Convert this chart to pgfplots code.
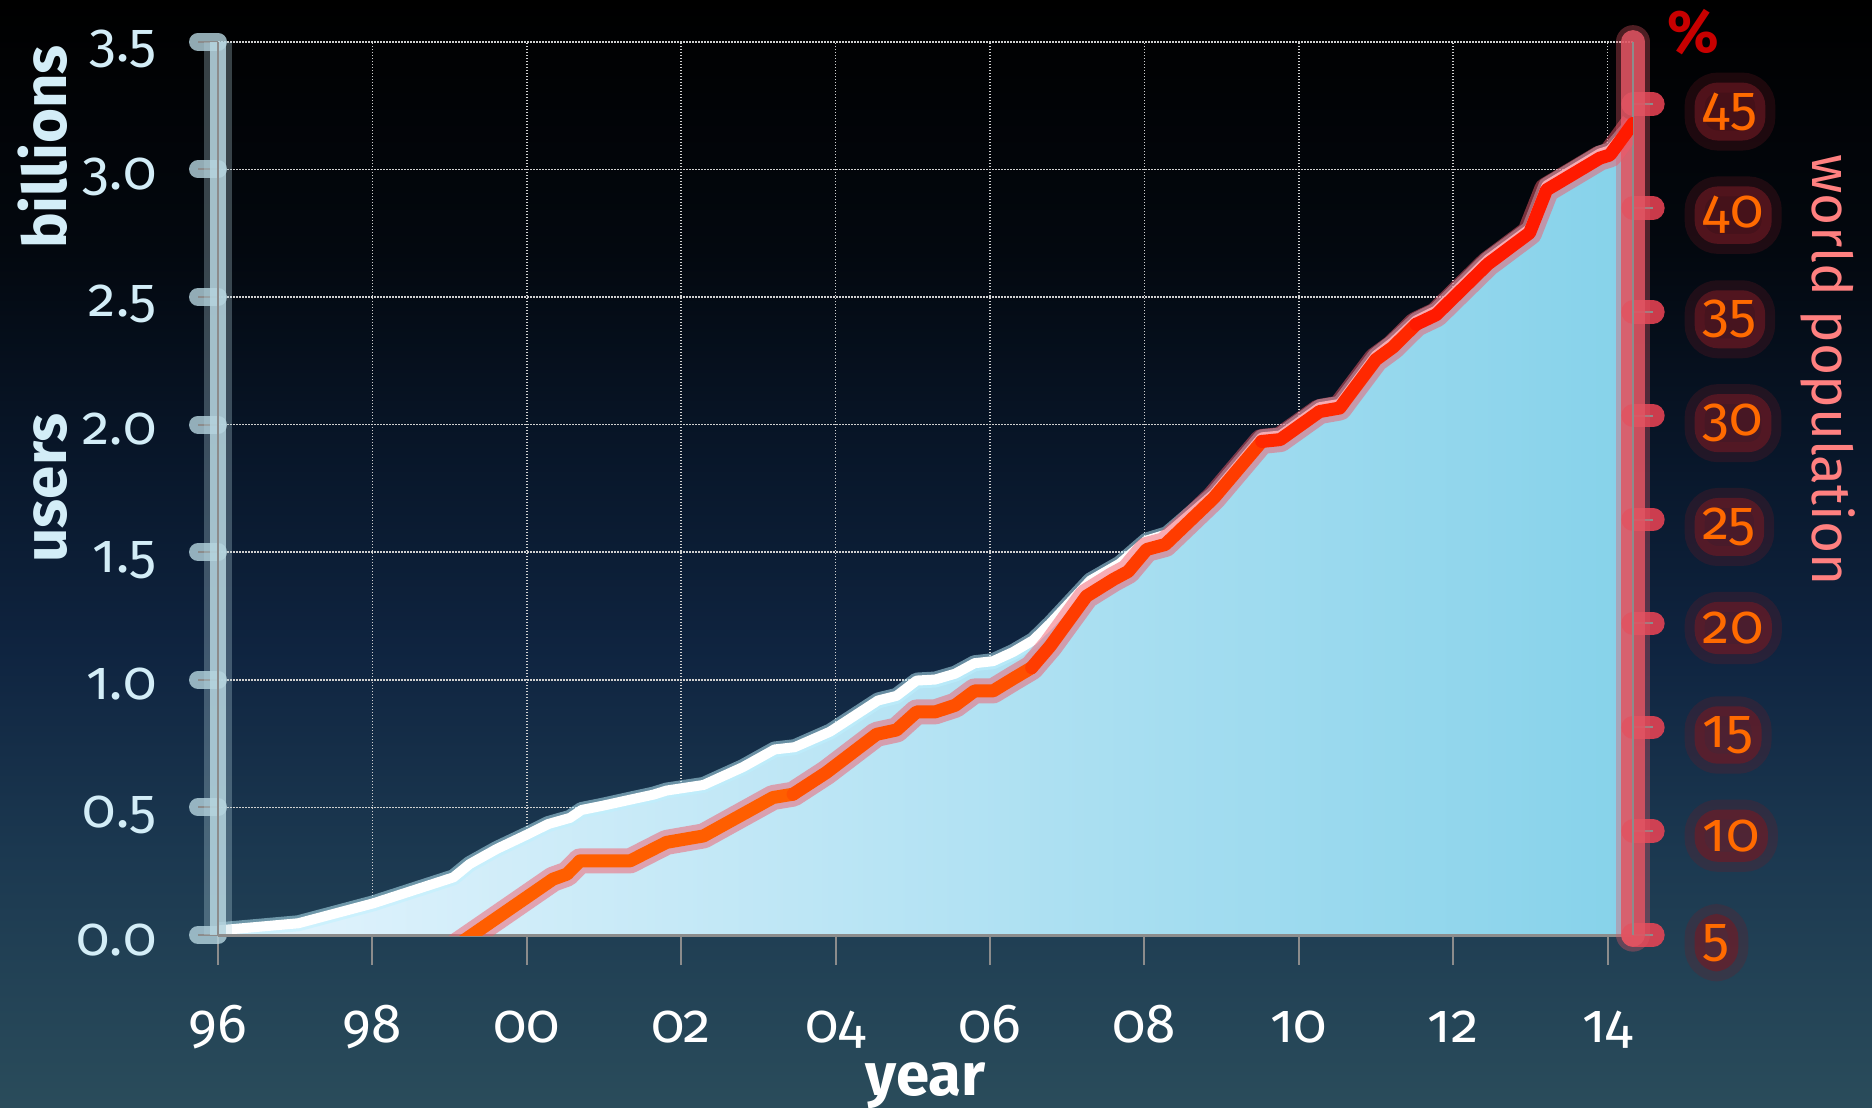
\documentclass[border=0pt]{standalone}
\usepackage{fontspec}
\setmainfont{Fira Sans}[Numbers=OldStyle]
\usepackage{pgfplots}
\usepackage{pgfplotstable}
\pgfplotsset{compat=1.18}

\definecolor{bg0}{HTML}{000000}
\definecolor{bg1}{HTML}{03080F}
\definecolor{bg2}{HTML}{081629}
\definecolor{bg3}{HTML}{0F2440}
\definecolor{bg4}{HTML}{1B3850}
\definecolor{bg5}{HTML}{2A4C5B}
\definecolor{lbl}{HTML}{D3EDF7}
\definecolor{lband}{HTML}{B6D5DF}
\definecolor{tickgray}{HTML}{8C8C8C}
\definecolor{gridc}{HTML}{D0D0D0}
\definecolor{fillL}{HTML}{E4F4FD}
\definecolor{fillR}{HTML}{86D2EA}
\definecolor{wglow}{HTML}{BDF1FF}
\definecolor{rband}{HTML}{E05563}
\definecolor{rblob}{HTML}{EE4455}
\definecolor{rlbl}{HTML}{FF6A00}
\definecolor{rglow}{HTML}{731A24}
\definecolor{rlineglow}{HTML}{F25A6A}
\definecolor{pctred}{HTML}{C80000}
\definecolor{wpop}{HTML}{FF8080}
\definecolor{rA}{HTML}{FF5E00}
\definecolor{rB}{HTML}{FF5000}
\definecolor{rC}{HTML}{FF3C00}
\definecolor{rD}{HTML}{FF2800}
\definecolor{rE}{HTML}{FF1A00}

% internet users, billions
\pgfplotstableread{
x y
1996.00 0.018
1997.04 0.046
1998.01 0.124
1999.05 0.226
1999.26 0.278
1999.61 0.337
2000.00 0.393
2000.28 0.435
2000.56 0.459
2000.71 0.490
2000.99 0.507
2001.38 0.533
2001.64 0.550
2001.81 0.566
2002.29 0.588
2002.80 0.658
2003.21 0.727
2003.47 0.736
2003.93 0.797
2004.55 0.919
2004.79 0.937
2005.05 0.997
2005.29 1.001
2005.55 1.024
2005.80 1.065
2006.04 1.073
2006.30 1.109
2006.56 1.155
2006.78 1.220
2007.30 1.389
2007.68 1.455
2008.03 1.546
2008.29 1.570
2008.90 1.728
2009.52 1.950
2009.76 1.957
2010.27 2.068
2010.53 2.081
2011.00 2.271
2011.22 2.323
2011.52 2.408
2011.78 2.447
2012.45 2.647
2012.99 2.767
2013.21 2.937
2013.90 3.062
2014.03 3.075
2014.33 3.180
}\users

% share of world population, percent
\pgfplotstableread{
x p
1999.00 4.26
1999.29 5.00
2000.34 7.69
2000.52 7.93
2000.69 8.57
2001.34 8.57
2001.81 9.46
2002.29 9.77
2003.19 11.62
2003.45 11.78
2003.88 12.82
2004.53 14.66
2004.79 14.87
2005.05 15.74
2005.29 15.74
2005.55 16.06
2005.80 16.75
2006.04 16.75
2006.30 17.34
2006.54 17.87
2006.78 18.91
2007.25 21.31
2007.60 22.12
2007.79 22.50
2008.03 23.56
2008.27 23.80
2008.90 26.04
2009.52 28.76
2009.76 28.85
2010.27 30.20
2010.53 30.37
2011.00 32.70
2011.22 33.30
2011.52 34.40
2011.78 34.86
2012.45 37.30
2012.99 38.80
2013.21 40.87
2013.90 42.40
2014.03 42.55
2014.33 44.07
}\pct

\begin{document}
\begin{tikzpicture}
\useasboundingbox (0,0) rectangle (561.6pt,332.1pt);
% background
\shade[top color=bg0, bottom color=bg1] (0,256.8pt) rectangle (561.6pt,332.1pt);
\shade[top color=bg1, bottom color=bg2] (0,196.8pt) rectangle (561.6pt,257.1pt);
\shade[top color=bg2, bottom color=bg3] (0,136.8pt) rectangle (561.6pt,197.1pt);
\shade[top color=bg3, bottom color=bg4] (0,76.8pt) rectangle (561.6pt,137.1pt);
\shade[top color=bg4, bottom color=bg5] (0,0) rectangle (561.6pt,77.1pt);

\pgfplotsset{
  base/.style={scale only axis, width=424.5pt, height=267.96pt,
    at={(65.4pt,51.6pt)}, anchor=south west,
    xmin=1996, xmax=2014.33, clip mode=individual,
    tick align=outside,
    major grid style={gridc, line width=0.45pt, dash pattern=on 0.45pt off 0.45pt},
    /pgf/number format/assume math mode=true},
  tlab/.style={font=\fontsize{16.5}{18}\selectfont}
}

% x axis
\begin{axis}[base, ymin=0, ymax=3.5,
  axis x line*=bottom, axis y line=none, ytick=\empty,
  xtick={1996,1998,2000,2002,2004,2006,2008,2010,2012,2014},
  xticklabels={96,98,00,02,04,06,08,10,12,14},
  xmajorgrids, major tick length=9pt,
  x tick style={draw=tickgray, line width=0.6pt},
  x axis line style={draw=tickgray, line width=0.9pt},
  xticklabel style={tlab, text=white, anchor=base, yshift=-23.1pt},
  xlabel={year},
  xlabel style={font=\bfseries\fontsize{18}{20}\selectfont, text=white,
    at={(axis description cs:0.5,0)}, anchor=base, yshift=-48pt}]
\end{axis}

% users axis (left)
\begin{axis}[base, ymin=0, ymax=3.5,
  axis y line*=left, axis x line=none, xtick=\empty,
  ytick={0,0.5,1,1.5,2,2.5,3,3.5},
  yticklabels={0.0,0.5,1.0,1.5,2.0,2.5,3.0,3.5},
  ymajorgrids, major tick length=6pt,
  y tick style={draw=tickgray, line width=0.6pt,
    preaction={draw=lband, line width=5.4pt, line cap=round, draw opacity=0.8}},
  y axis line style={draw=tickgray, line width=0.6pt},
  yticklabel style={tlab, text=lbl, anchor=base east, inner sep=0pt,
    xshift=-12.3pt, yshift=-6pt}]
\addplot[draw=none, left color=fillL, right color=fillR] table[x=x, y=y]{\users} \closedcycle;
\addplot[line width=4.8pt, color=wglow, opacity=0.5, line join=round] table[x=x, y=y]{\users};
\addplot[line width=3pt, color=white, line join=round] table[x=x, y=y]{\users};
\draw[lband, line width=8.5pt, opacity=0.3] (rel axis cs:0,0) -- (rel axis cs:0,1);
\draw[lband, line width=5pt, opacity=0.85] (rel axis cs:0,0) -- (rel axis cs:0,1);
\draw[tickgray, line width=0.6pt] (rel axis cs:0,0) -- (rel axis cs:0,1);
\draw[tickgray, line width=0.9pt] (rel axis cs:0,0) -- (rel axis cs:1,0);
\end{axis}

% percentage axis (right)
\begin{axis}[base, ymin=5, ymax=48,
  axis y line*=right, axis x line=none, xtick=\empty,
  ytick={5,10,15,20,25,30,35,40,45},
  yticklabels={5,10,15,20,25,30,35,40,45},
  major tick length=6pt,
  y tick style={draw=tickgray, line width=0.6pt,
    preaction={draw=rblob, line width=7pt, line cap=round, draw opacity=0.85}},
  y axis line style={draw=tickgray, line width=0.6pt},
  yticklabel style={tlab, text=rlbl, anchor=base west, inner xsep=2.5pt, inner ysep=3pt,
    xshift=9.5pt, yshift=-6pt, fill=rglow, fill opacity=0.6, text opacity=1,
    rounded corners=7pt, draw=rglow, draw opacity=0.25, line width=6pt}]
\draw[rband, line width=10pt, opacity=0.35, line cap=round] (rel axis cs:1,0) -- (rel axis cs:1,1);
\draw[rband, line width=7pt, opacity=0.85, line cap=round] (rel axis cs:1,0) -- (rel axis cs:1,1);
\draw[tickgray, line width=0.6pt] (rel axis cs:1,0) -- (rel axis cs:1,1);
\addplot[line width=7.5pt, color=rlineglow, opacity=0.5, line join=round] table[x=x, y=p]{\pct};
\addplot[line width=3.9pt, color=rA, line join=round, line cap=round, restrict x to domain=1998:2003.46] table[x=x, y=p]{\pct};
\addplot[line width=3.9pt, color=rB, line join=round, line cap=round, restrict x to domain=2003.44:2006.55] table[x=x, y=p]{\pct};
\addplot[line width=3.9pt, color=rC, line join=round, line cap=round, restrict x to domain=2006.53:2009.53] table[x=x, y=p]{\pct};
\addplot[line width=3.9pt, color=rD, line join=round, line cap=round, restrict x to domain=2009.51:2011.53] table[x=x, y=p]{\pct};
\addplot[line width=3.9pt, color=rE, line join=round, line cap=round, restrict x to domain=2011.51:2015] table[x=x, y=p]{\pct};
\end{axis}

\node[rotate=90, anchor=base, text=lbl, font=\bfseries\fontsize{18}{20}\selectfont] at (19.8pt,288pt) {billions};
\node[rotate=90, anchor=base, text=lbl, font=\bfseries\fontsize{18}{20}\selectfont] at (19.8pt,185.7pt) {users};
\node[rotate=-90, anchor=base, text=wpop, font=\fontsize{16.5}{18}\selectfont] at (543.6pt,221.1pt) {world population};
\node[anchor=center, text=pctred, font=\bfseries\fontsize{18}{20}\selectfont] at (507.9pt,322.5pt) {\%};
\end{tikzpicture}
\end{document}
